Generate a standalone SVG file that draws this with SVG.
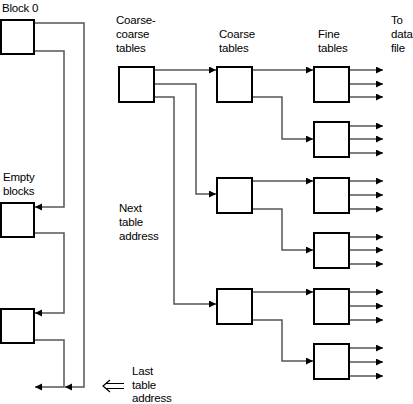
<svg xmlns="http://www.w3.org/2000/svg" width="413" height="404" viewBox="0 0 413 404">
<style>
.box{fill:#fff;stroke:#000;stroke-width:2}
.ln{fill:none;stroke:#555;stroke-width:1.5}
.ar{marker-end:url(#ah)}
text{font-family:"Liberation Sans",Arial,sans-serif;font-size:11.5px;letter-spacing:-0.2px;fill:#000}
</style>
<defs>
<marker id="ah" markerUnits="userSpaceOnUse" markerWidth="8" markerHeight="8" refX="7" refY="3.5" orient="auto">
<path d="M0,0 L7,3.5 L0,7 z" fill="#000"/>
</marker>
</defs>
<rect width="413" height="404" fill="#fff"/>
<g id="connectors">
<path class="ln ar" d="M34,23 H84 V387 H65"/>
<path class="ln ar" d="M34,51 H64 V207 H35"/>
<path class="ln ar" d="M34,233 H64 V313 H35"/>
<path class="ln ar" d="M34,340 H64 V387 H35"/>
<path class="ln ar" d="M154,70 H216"/>
<path class="ln ar" d="M154,84 H196 V194 H216"/>
<path class="ln ar" d="M154,97 H174 V304 H216"/>
<path class="ln ar" d="M252,70 H313"/>
<path class="ln ar" d="M252,97 H282 V139 H313"/>
<path class="ln ar" d="M252,181 H313"/>
<path class="ln ar" d="M252,209 H282 V250 H313"/>
<path class="ln ar" d="M252,292 H313"/>
<path class="ln ar" d="M252,320 H282 V361 H313"/>
<path class="ln ar" d="M349,70 H383"/><path class="ln ar" d="M349,84 H383"/><path class="ln ar" d="M349,97 H383"/>
<path class="ln ar" d="M349,126 H383"/><path class="ln ar" d="M349,139 H383"/><path class="ln ar" d="M349,153 H383"/>
<path class="ln ar" d="M349,181 H383"/><path class="ln ar" d="M349,195 H383"/><path class="ln ar" d="M349,209 H383"/>
<path class="ln ar" d="M349,237 H383"/><path class="ln ar" d="M349,250 H383"/><path class="ln ar" d="M349,264 H383"/>
<path class="ln ar" d="M349,292 H383"/><path class="ln ar" d="M349,306 H383"/><path class="ln ar" d="M349,320 H383"/>
<path class="ln ar" d="M349,348 H383"/><path class="ln ar" d="M349,362 H383"/><path class="ln ar" d="M349,376 H383"/>
</g>
<g id="block0"><rect class="box" x="1" y="20" width="33" height="34"/><text x="2" y="12">Block 0</text></g>
<g id="empty1"><rect class="box" x="1" y="203" width="33" height="34"/><text x="3" y="181">Empty</text><text x="3" y="195">blocks</text></g>
<g id="empty2"><rect class="box" x="1" y="309" width="33" height="34"/></g>
<g id="coarsecoarse"><rect class="box" x="119" y="67" width="35" height="35"/><text x="116" y="24">Coarse-</text><text x="116" y="38">coarse</text><text x="116" y="52">tables</text></g>
<g id="coarse1"><rect class="box" x="217" y="67" width="35" height="35"/><text x="219" y="38">Coarse</text><text x="219" y="52">tables</text></g>
<g id="coarse2"><rect class="box" x="217" y="178" width="35" height="35"/></g>
<g id="coarse3"><rect class="box" x="217" y="289" width="35" height="35"/></g>
<g id="fine1"><rect class="box" x="314" y="67" width="35" height="35"/><text x="318" y="38">Fine</text><text x="318" y="52">tables</text></g>
<g id="fine2"><rect class="box" x="314" y="122" width="35" height="35"/></g>
<g id="fine3"><rect class="box" x="314" y="178" width="35" height="35"/></g>
<g id="fine4"><rect class="box" x="314" y="233" width="35" height="35"/></g>
<g id="fine5"><rect class="box" x="314" y="289" width="35" height="35"/></g>
<g id="fine6"><rect class="box" x="314" y="344" width="35" height="35"/></g>
<g id="datafile"><text x="391" y="24">To</text><text x="391" y="38">data</text><text x="391" y="52">file</text></g>
<g id="nexttable"><text x="119" y="212">Next</text><text x="119" y="226">table</text><text x="119" y="240">address</text></g>
<g id="lasttable">
<path d="M110,380 L103,386 L110,392" fill="none" stroke="#000" stroke-width="1.2"/>
<path d="M106,383.5 H124 M106,388.5 H124" fill="none" stroke="#000" stroke-width="1.2"/>
<text x="132" y="375">Last</text><text x="132" y="389">table</text><text x="132" y="402">address</text>
</g>
</svg>
